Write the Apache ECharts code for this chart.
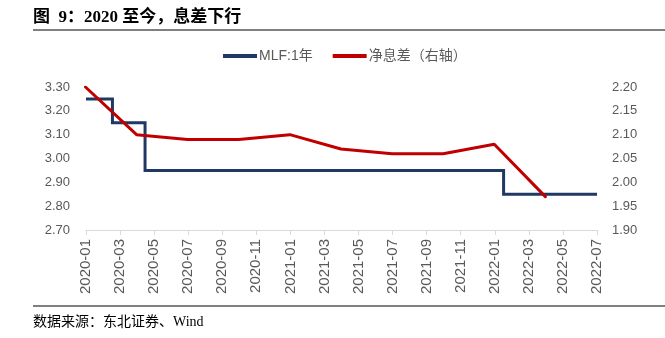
<!DOCTYPE html>
<html><head><meta charset="utf-8">
<script src="https://cdn.jsdelivr.net/npm/echarts@6/dist/echarts.min.js"></script>
<style>html,body{margin:0;padding:0;background:#fff}#c{width:665px;height:338px}</style>
</head><body><div id="c"></div>
<script>
// MLF 1-year rate: change dates and rates (step line)
var mlfDates = ['2020-01-01', '2020-02-17', '2020-04-15', '2022-01-17', '2022-07-01'];
var mlfValues = [3.25, 3.15, 2.95, 2.85, 2.85];
// Net interest margin (quarterly, right axis)
var nimDates = ['2019-12-31', '2020-03-31', '2020-06-30', '2020-09-30', '2020-12-31', '2021-03-31', '2021-06-30', '2021-09-30', '2021-12-31', '2022-03-31'];
var nimValues = [2.20, 2.10, 2.09, 2.09, 2.10, 2.07, 2.06, 2.06, 2.08, 1.97];
var seriesNames = ['MLF:1年', '净息差（右轴）'];
var leftTicks = {min: 2.70, max: 3.30, interval: 0.10};
var rightTicks = {min: 1.90, max: 2.20, interval: 0.05};
var xRange = {start: '2020-01', end: '2022-07', stepMonths: 2};

function monthIndex(s) {
  var p = s.split('-').map(Number);
  var y = p[0], m = p[1], d = p[2] || 1;
  var dim = new Date(y, m, 0).getDate();
  return (y - 2020) * 12 + (m - 1) + (d - 1) / dim;
}
function pairs(dates, vals) { return dates.map(function (d, i) { return [monthIndex(d), vals[i]]; }); }
function fmtMonth(v) {
  var y = 2020 + Math.floor(v / 12), m = Math.round(v - (y - 2020) * 12) + 1;
  return y + '-' + (m < 10 ? '0' + m : m);
}

var axisTxt = {color: '#595959', fontSize: 13, fontFamily: 'Liberation Sans, Arial, sans-serif'};
var chart = echarts.init(document.getElementById('c'));
chart.setOption({
  animation: false,
  grid: {left: 86, right: 68, top: 87, bottom: 108},
  legend: {
    top: 44, left: 218, itemWidth: 34, itemHeight: 4, itemGap: 20, icon: 'rect',
    textStyle: {color: '#595959', fontSize: 14, fontFamily: 'Liberation Sans, Noto Sans CJK SC, sans-serif', padding: [0, 0, 0, -3]},
    data: seriesNames
  },
  xAxis: {
    type: 'value', min: monthIndex(xRange.start), max: monthIndex(xRange.end), interval: xRange.stepMonths,
    axisLine: {show: true, lineStyle: {color: '#d9d9d9', width: 1}},
    axisTick: {show: true, length: 5, lineStyle: {color: '#d9d9d9'}},
    splitLine: {show: false},
    axisLabel: Object.assign({}, axisTxt, {rotate: 90, margin: 9, fontSize: 15, formatter: fmtMonth})
  },
  yAxis: [
    {type: 'value', min: leftTicks.min, max: leftTicks.max, interval: leftTicks.interval,
     axisLine: {show: false}, axisTick: {show: false}, splitLine: {show: false},
     axisLabel: Object.assign({margin: 16, formatter: function (v) { return v.toFixed(2); }}, axisTxt)},
    {type: 'value', min: rightTicks.min, max: rightTicks.max, interval: rightTicks.interval,
     axisLine: {show: false}, axisTick: {show: false}, splitLine: {show: false},
     axisLabel: Object.assign({margin: 15, formatter: function (v) { return v.toFixed(2); }}, axisTxt)}
  ],
  series: [
    {name: seriesNames[0], type: 'line', step: 'end', yAxisIndex: 0, showSymbol: false, symbol: 'none',
     data: pairs(mlfDates, mlfValues), itemStyle: {color: '#1f3864'},
     lineStyle: {color: '#1f3864', width: 3, join: 'miter'}},
    {name: seriesNames[1], type: 'line', yAxisIndex: 1, showSymbol: false, symbol: 'none',
     data: pairs(nimDates, nimValues), itemStyle: {color: '#c00000'},
     lineStyle: {color: '#c00000', width: 3, cap: 'round'}}
  ],
  graphic: [
    {type: 'text', left: 33, top: 9, style: {text: '图  9：2020 至今，息差下行', fill: '#000', font: 'bold 17px "Liberation Serif", "Noto Sans CJK SC", serif'}},
    {type: 'line', shape: {x1: 33, y1: 30, x2: 665, y2: 30}, style: {stroke: '#000', lineWidth: 1}},
    {type: 'line', shape: {x1: 33, y1: 306, x2: 665, y2: 306}, style: {stroke: '#808080', lineWidth: 2}},
    {type: 'text', left: 33, top: 315, style: {text: '数据来源：东北证券、Wind', fill: '#000', font: '14px "Liberation Serif", "Noto Sans CJK SC", serif'}}
  ]
});
</script></body></html>
